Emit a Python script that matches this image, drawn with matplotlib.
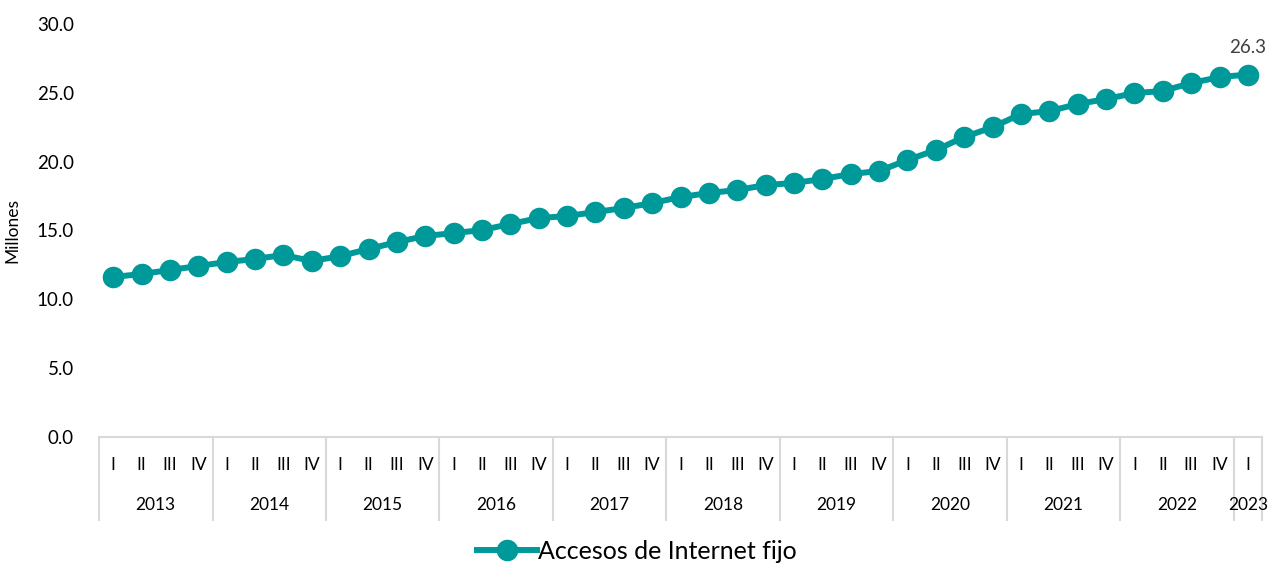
import matplotlib.pyplot as plt
import matplotlib.transforms as mtransforms

plt.rcParams['font.family'] = ['Lato', 'DejaVu Sans']

# Datos: accesos de Internet fijo (millones), 2013 I - 2023 I
years = ['2013', '2014', '2015', '2016', '2017', '2018', '2019', '2020', '2021', '2022', '2023']
quarters = ['I', 'II', 'III', 'IV']
accesos = [11.62, 11.84, 12.13, 12.42,
           12.71, 12.93, 13.22, 12.78,
           13.14, 13.65, 14.16, 14.60,
           14.81, 15.03, 15.47, 15.90,
           16.05, 16.34, 16.63, 16.99,
           17.43, 17.72, 17.94, 18.30,
           18.45, 18.74, 19.10, 19.32,
           20.12, 20.84, 21.79, 22.50,
           23.46, 23.67, 24.18, 24.55,
           24.98, 25.13, 25.71, 26.14,
           26.33]

color = '#009999'
n = len(accesos)
x = list(range(n))
qlabels = [quarters[i % 4] for i in range(n)]

fig = plt.figure(figsize=(12.73, 5.71), dpi=100)
ax = fig.add_axes([0.0778, 0.2347, 0.9136, 0.7233])

ax.plot(x, accesos, color=color, lw=4.3, marker='o', markersize=14.5,
        label='Accesos de Internet fijo')

ax.set_xlim(-0.5, n - 0.5)
ax.set_ylim(0, 30)
ax.set_yticks([0, 5, 10, 15, 20, 25, 30])
ax.set_yticklabels([f'{v:.1f}' for v in [0, 5, 10, 15, 20, 25, 30]], fontsize=13.5)
ax.tick_params(axis='y', length=0, pad=18)
ax.set_xticks([])
ax.set_ylabel('Millones', fontsize=12.5)
ax.yaxis.set_label_coords(-0.068, 0.5)

for s in ['top', 'right', 'left']:
    ax.spines[s].set_visible(False)
ax.spines['bottom'].set_color('#d9d9d9')
ax.spines['bottom'].set_linewidth(1.5)

# etiqueta del ultimo valor
ax.annotate(f'{accesos[-1]:.1f}', (x[-1], accesos[-1]), xytext=(0, 13),
            textcoords='offset points', ha='center', va='bottom',
            fontsize=13.5, color='#404040')

# eje de categorias en dos niveles
trans = mtransforms.blended_transform_factory(ax.transData, ax.transAxes)
for i, q in enumerate(qlabels):
    ax.text(i, -0.068, q, transform=trans, ha='center', va='center', fontsize=12.5)

bounds = [-0.5]
for j, yr in enumerate(years):
    start = j * 4
    end = min(start + 4, n)
    ax.text((start + end - 1) / 2, -0.165, yr, transform=trans,
            ha='center', va='center', fontsize=12.5)
    bounds.append(end - 0.5)
for b in bounds:
    ax.plot([b, b], [0, -0.2], transform=trans, color='#d9d9d9', lw=1.5,
            clip_on=False)

fig.legend(loc='lower center', bbox_to_anchor=(0.5, -0.025), frameon=False,
           fontsize=18, handlelength=2.4, handletextpad=0.05)

fig.savefig('out.png', dpi=100)
